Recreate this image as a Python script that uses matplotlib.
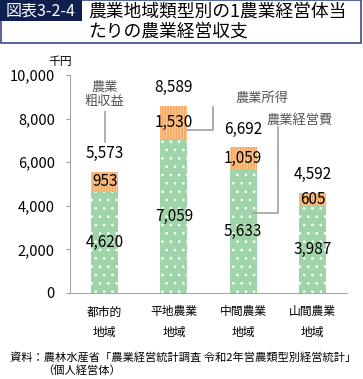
import matplotlib.pyplot as plt
from matplotlib.patches import Rectangle

plt.rcParams['font.family'] = ['Noto Sans CJK JP', 'DejaVu Sans']

# データ（千円）
regions = ['都市的\n地域', '平地農業\n地域', '中間農業\n地域', '山間農業\n地域']
expense = [4620, 7059, 5633, 3987]   # 農業経営費
income = [953, 1530, 1059, 605]      # 農業所得
gross = [5573, 8589, 6692, 4592]     # 農業粗収益
yticks = [0, 2000, 4000, 6000, 8000, 10000]

fig = plt.figure(figsize=(3.63, 3.79), dpi=100)
ax = fig.add_axes([0.193, 0.227, 0.763, 0.575])

x = range(len(regions))
b1 = ax.bar(x, expense, width=0.39, color='#9fd4a9', edgecolor='white', hatch='..', linewidth=0)
b2 = ax.bar(x, income, width=0.39, bottom=expense, color='#fbcf9e', edgecolor='#f5a962',
            hatch='|' * 6, linewidth=0)
# ハッチの線幅を個別に
for p in b1:
    p.set_hatch_linewidth(0.7)
for p in b2:
    p.set_hatch_linewidth(1.3)

for i in x:
    ax.text(i, expense[i] / 2, f'{expense[i]:,}', ha='center', va='center', fontsize=11)
    ax.text(i, expense[i] + income[i] / 2, f'{income[i]:,}', ha='center', va='center', fontsize=11)
    ax.annotate(f'{gross[i]:,}', (i, gross[i]), xytext=(0, 13), textcoords='offset points',
                ha='center', va='center', fontsize=11)

ax.set_xlim(-0.5, 3.5)
ax.set_ylim(0, 10000)
ax.set_yticks(yticks)
ax.set_yticklabels([f'{v:,}' for v in yticks], fontsize=10.5)
ax.set_xticks(list(x))
ax.set_xticklabels(regions, fontsize=8.5, linespacing=1.75)
ax.tick_params(axis='x', length=0, pad=9)
ax.tick_params(axis='y', length=3, color='#a0a0a0', pad=8)
for s in ['top', 'right']:
    ax.spines[s].set_visible(False)
for s in ['left', 'bottom']:
    ax.spines[s].set_color('#a8a8a8')
ax.text(-0.65, 10330, '千円', fontsize=8.5, ha='center', va='bottom')

# 引き出し線と注記
gray = '#a0a0a0'
tc = '#555555'
ax.plot([0, 0], [6930, 8300], color=gray, lw=1.2, clip_on=False, zorder=5)
ax.text(0, 9100, '農業\n粗収益', ha='center', va='center', fontsize=9.5, color=tc, linespacing=1.15)
ax.plot([1.195, 1.565, 1.565], [7480, 7480, 8530], color=gray, lw=1.2, clip_on=False, zorder=5)
ax.text(2.27, 8950, '農業所得', ha='center', va='center', fontsize=9.5, color=tc)
ax.plot([2.14, 2.50, 2.50], [3670, 3670, 7615], color=gray, lw=1.2, clip_on=False, zorder=5)
ax.text(2.82, 7940, '農業経営費', ha='center', va='center', fontsize=9.5, color=tc)

# タイトル
fig.patches.append(Rectangle((0.002, 1 - 43 / 379), 0.993, 43 / 379, transform=fig.transFigure,
                             facecolor='white', edgecolor='#3a4a8a', lw=1.2))
fig.patches.append(Rectangle((0, 1 - 21 / 379), 82 / 363, 21 / 379, transform=fig.transFigure,
                             facecolor='#0f1f4f', edgecolor='none'))
fig.text(41 / 363, 1 - 11 / 379, '図表3-2-4', color='white', fontsize=11.5, ha='center', va='center')
fig.text(88 / 363, 1 - 11.5 / 379, '農業地域類型別の1農業経営体当', fontsize=12.8, va='center')
fig.text(88 / 363, 1 - 32 / 379, 'たりの農業経営収支', fontsize=12.8, va='center')

# 出典
fig.text(10 / 363, 1 - 357 / 379, '資料：農林水産省「農業経営統計調査 令和2年営農類型別経営統計」',
         fontsize=8.1, va='center')
fig.text(42 / 363, 1 - 371 / 379, '（個人経営体）', fontsize=8.1, va='center')

fig.savefig('out.png', dpi=100)
